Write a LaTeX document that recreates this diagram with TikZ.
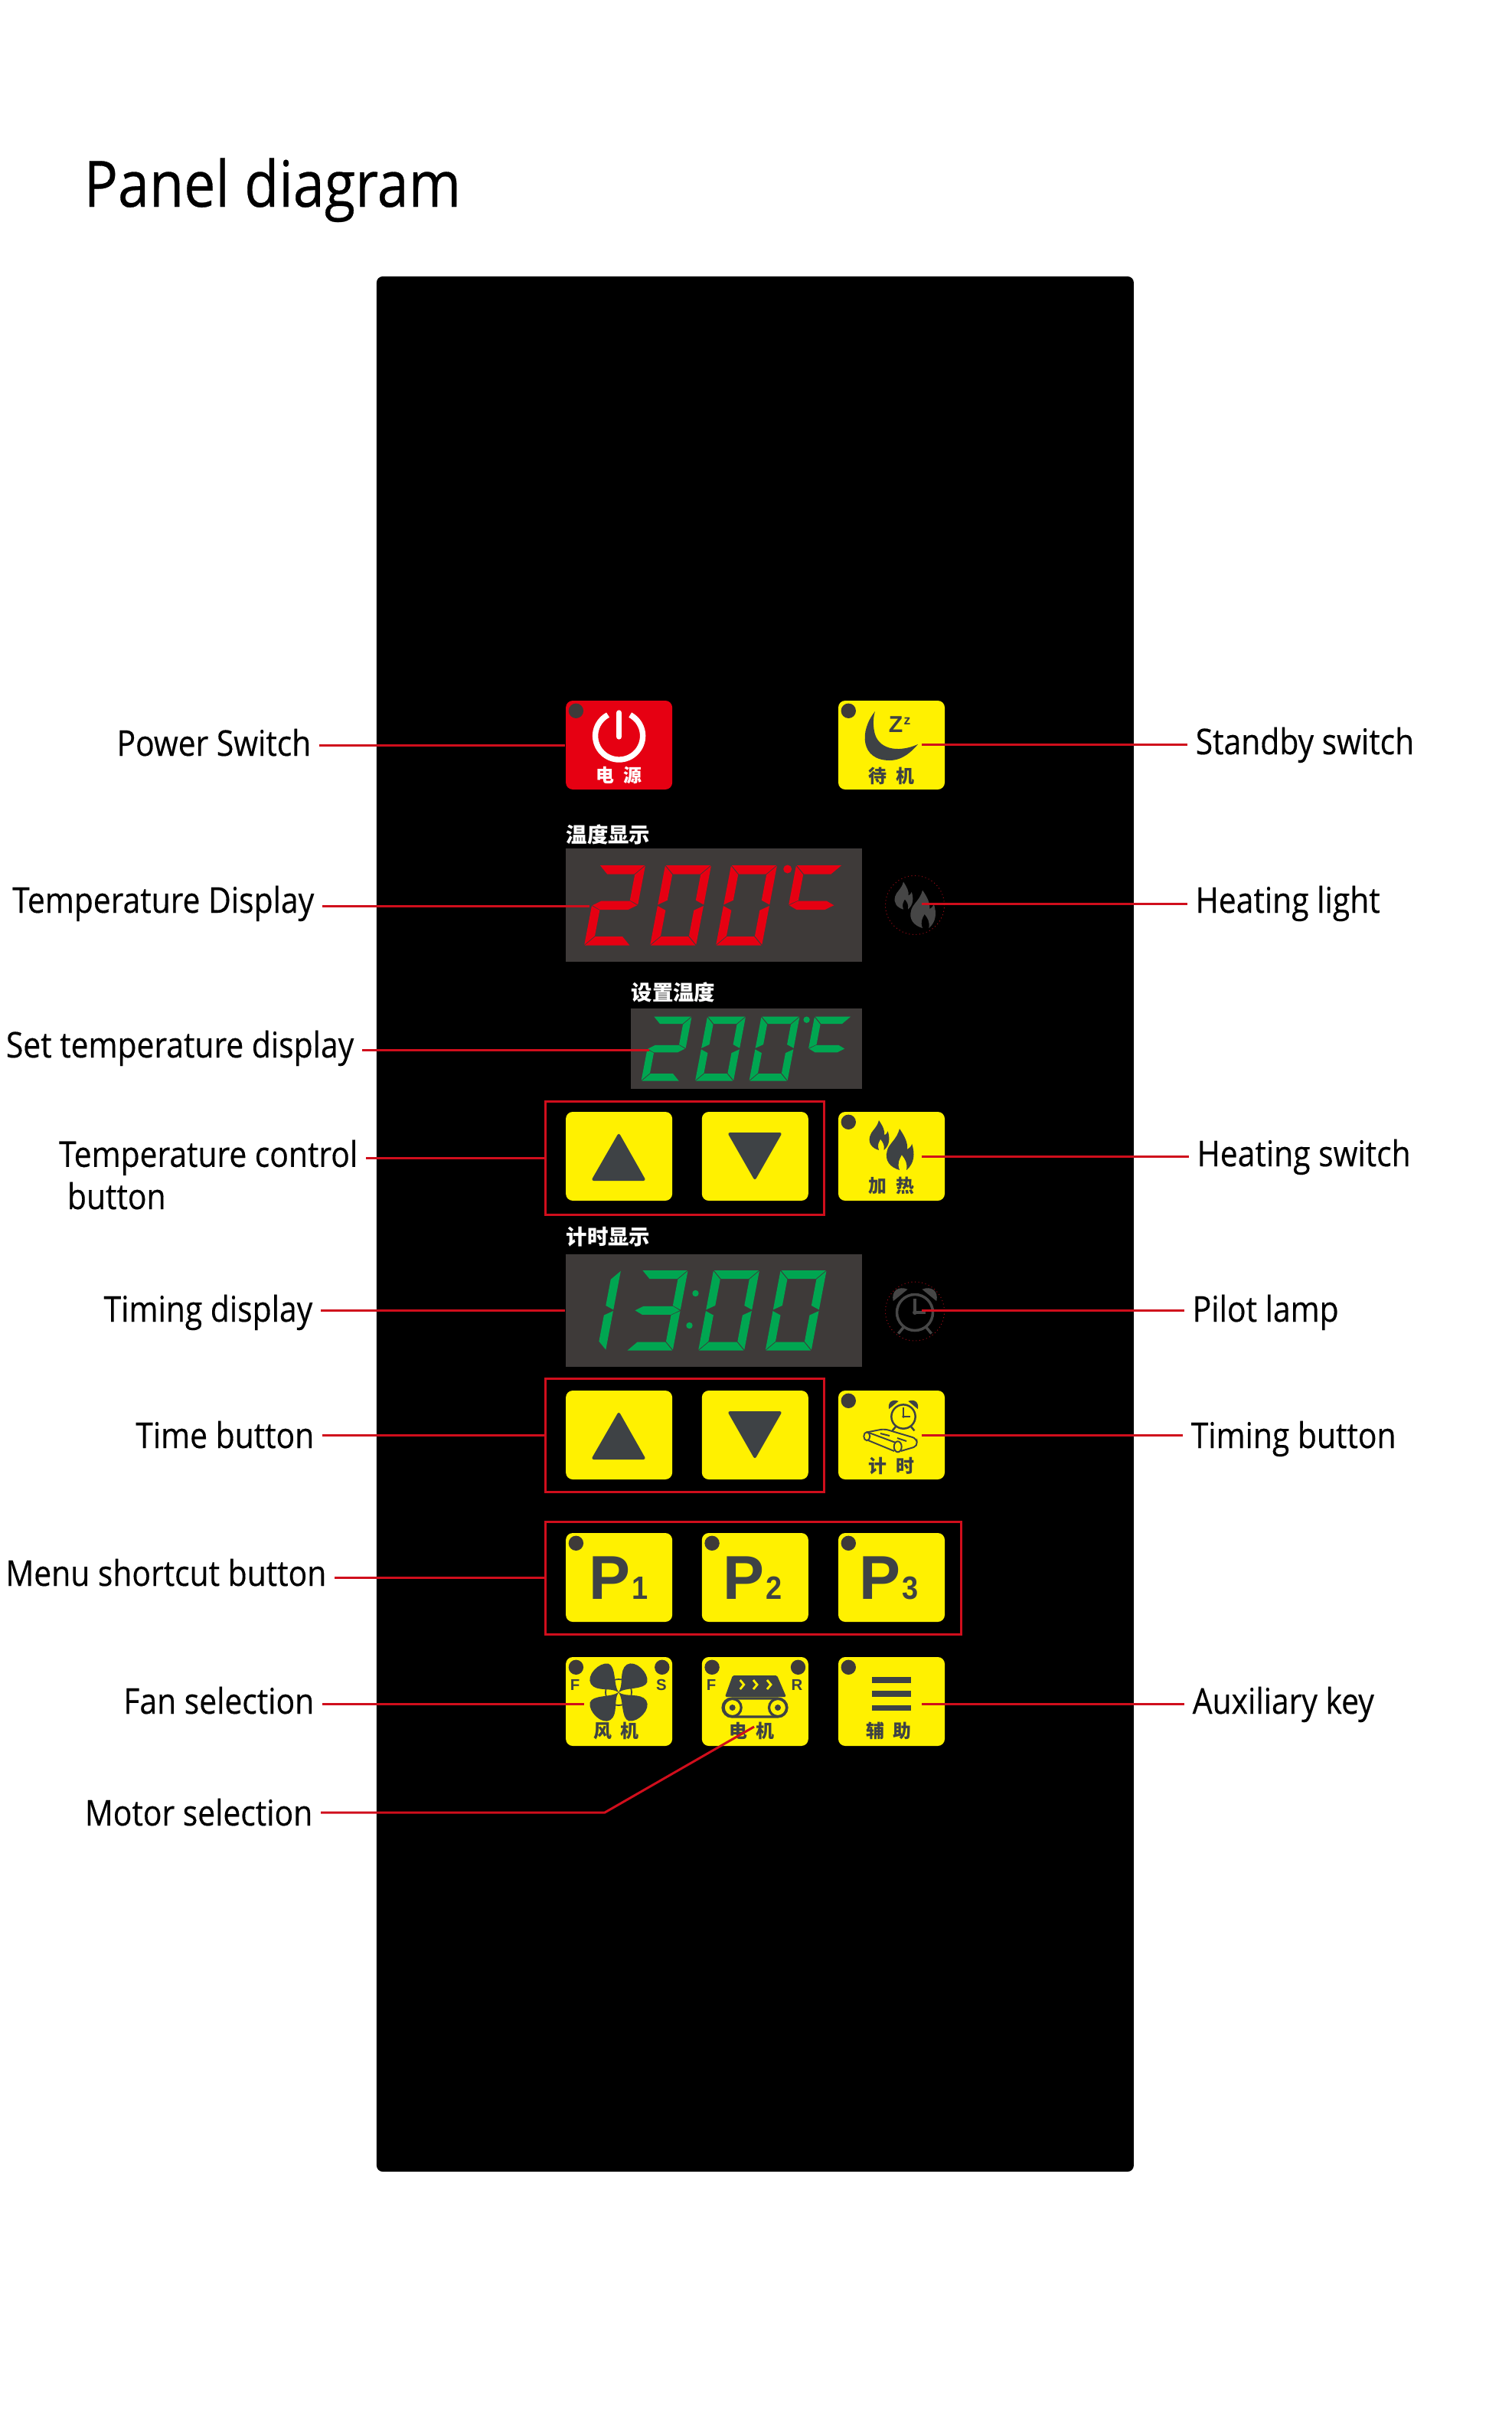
\documentclass[tikz,border=0pt]{standalone}
\usepackage{fontspec}
\usetikzlibrary{calc}
\setmainfont[FakeStretch=.88,FakeBold=.35]{Open Sans}
\newfontfamily\cjkfont[WordSpace=2.1]{Noto Sans CJK SC}
\newfontfamily\keyfont{Liberation Sans}
\newfontfamily\keynarrow[FakeStretch=.9]{Liberation Sans}
\definecolor{ledred}{RGB}{230,0,18}
\definecolor{ledgreen}{RGB}{0,166,81}
\definecolor{keyyellow}{RGB}{255,241,0}
\definecolor{icondark}{RGB}{62,66,69}
\definecolor{leddark}{RGB}{62,58,57}
\definecolor{lampgrey}{RGB}{70,70,70}
\definecolor{leaderred}{RGB}{208,14,28}

% seven segment parts, coordinates go down from the top of the digit
\newcommand{\segpa}{\fill (\segG,0) -- (\segW-\segG,0) -- (\segW-\segT-\segG,\segT) -- (\segT+\segG,\segT) -- cycle;}
\newcommand{\segpb}{\fill (\segW,\segG) -- (\segW,\segH/2-\segG) -- (\segW-\segT,\segH/2-\segT/2-\segG) -- (\segW-\segT,\segT+\segG) -- cycle;}
\newcommand{\segpc}{\fill (\segW,\segH/2+\segG) -- (\segW,\segH-\segG) -- (\segW-\segT,\segH-\segT-\segG) -- (\segW-\segT,\segH/2+\segT/2+\segG) -- cycle;}
\newcommand{\segpd}{\fill (\segG,\segH) -- (\segW-\segG,\segH) -- (\segW-\segT-\segG,\segH-\segT) -- (\segT+\segG,\segH-\segT) -- cycle;}
\newcommand{\segpe}{\fill (0,\segH/2+\segG) -- (0,\segH-\segG) -- (\segT,\segH-\segT-\segG) -- (\segT,\segH/2+\segT/2+\segG) -- cycle;}
\newcommand{\segpf}{\fill (0,\segG) -- (0,\segH/2-\segG) -- (\segT,\segH/2-\segT/2-\segG) -- (\segT,\segT+\segG) -- cycle;}
\newcommand{\segpg}{\fill (\segG,\segH/2) -- (\segT,\segH/2-\segT/2) -- (\segW-\segT,\segH/2-\segT/2) -- (\segW-\segG,\segH/2) -- (\segW-\segT,\segH/2+\segT/2) -- (\segT,\segH/2+\segT/2) -- cycle;}
\newcommand{\segdigit}[6]{%
  \begin{scope}[shift={(#1,#2)}, x={(1cm,0cm)}, y={(-.19cm,-1cm)}]
    \def\segW{#3}\def\segH{#4}\def\segT{#5}\def\segG{.008}
    \foreach \s in {#6} {\csname segp\s\endcsname}
  \end{scope}}

\tikzset{
  flame/.pic={
    \fill (0,0) .. controls (-.35,.1) and (-.55,.35) .. (-.45,.7)
      .. controls (-.4,.95) and (-.1,1.1) .. (0,1.5)
      .. controls (.2,1.2) and (.3,1) .. (.28,.75)
      .. controls (.36,.8) and (.42,.85) .. (.45,.95)
      .. controls (.56,.6) and (.55,.25) .. (.25,0)
      .. controls (.3,.25) and (.2,.4) .. (.08,.55)
      .. controls (0,.4) and (-.1,.25) .. (0,0);
  },
  clockicon/.pic={
    \draw (0,0) circle (.87);
    \fill (-1.05,.55) .. controls (-1.15,1.05) and (-.8,1.3) .. (-.35,1.12) -- cycle;
    \fill (1.05,.55) .. controls (1.15,1.05) and (.8,1.3) .. (.35,1.12) -- cycle;
    \draw (-.55,-.72) -- (-.8,-1.02);
    \draw (.55,-.72) -- (.8,-1.02);
    \draw (0,.68) -- (0,0) -- (.5,0);
    \fill (0,0) circle (.11);
  }
}

\begin{document}
\begin{tikzpicture}[
    panel/.style={rectangle, rounded corners=.08cm, fill=black, minimum width=9.89cm, minimum height=24.75cm, inner sep=0pt},
    keybtn/.style={rectangle, rounded corners=.09cm, fill=keyyellow, minimum width=1.39cm, minimum height=1.16cm, inner sep=0pt},
    led/.style={circle, fill=leddark, minimum size=.194cm, inner sep=0pt, xshift=.14cm, yshift=-.14cm},
    display/.style={rectangle, fill=leddark, inner sep=0pt},
    groupbox/.style={rectangle, draw=leaderred, line width=.85pt, inner sep=0pt},
    lamp/.style={circle, draw=leaderred!70!black, line width=.3pt, densely dotted, minimum size=.77cm, inner sep=0pt},
    leader/.style={leaderred, line width=.85pt},
    lblleft/.style={font=\fontsize{13.2}{15.7}\selectfont, anchor=base east, inner xsep=.1cm, inner ysep=0pt},
    lblright/.style={font=\fontsize{13.2}{15.7}\selectfont, anchor=base west, inner xsep=.1cm, inner ysep=0pt},
    dispcaption/.style={font=\cjkfont\bfseries\fontsize{7.8}{8}\selectfont, text=white, anchor=west, inner sep=0pt},
    keycaption/.style={font=\cjkfont\bfseries\fontsize{6.8}{7}\selectfont, text=icondark, inner sep=0pt},
    keyletter/.style={font=\keyfont\bfseries\fontsize{5.8}{6}\selectfont, text=icondark, inner sep=0pt},
    keyp/.style={text=icondark, anchor=base west, inner sep=0pt}
]
\useasboundingbox (0,0) rectangle (19.75,-31.46);

% Title and panel
\node[anchor=base west, inner sep=0pt, font=\fontsize{23.8}{26}\selectfont] (title) at (1.09,-2.70) {Panel diagram};
\node[panel] (panel) at (9.864,-15.985) {};

% Displays
\node[dispcaption] (capTemp) at (7.39,-10.90) {温度显示};
\node[display, minimum width=3.87cm, minimum height=1.48cm] (dispTemp) at (9.32,-11.82) {};
\node[dispcaption] (capSet) at (8.24,-12.955) {设置温度};
\node[display, minimum width=3.015cm, minimum height=1.05cm] (dispSet) at (9.7475,-13.69) {};
\node[dispcaption] (capTime) at (7.39,-16.15) {计时显示};
\node[display, minimum width=3.87cm, minimum height=1.47cm] (dispTime) at (9.32,-17.115) {};

% Digits
\begin{scope}[color=ledred]
\segdigit{7.83}{-11.30}{.60}{1.045}{.115}{a,b,g,e,d}
\segdigit{8.69}{-11.30}{.60}{1.045}{.115}{a,b,c,d,e,f}
\segdigit{9.55}{-11.30}{.60}{1.045}{.115}{a,b,c,d,e,f}
\segdigit{10.40}{-11.30}{.60}{1.045}{.115}{a,f,g}
\fill (10.287,-11.35) circle (.055);
\end{scope}
\begin{scope}[color=ledgreen]
\segdigit{8.535}{-13.276}{.50}{.84}{.095}{a,b,g,e,d}
\segdigit{9.24}{-13.276}{.50}{.84}{.095}{a,b,c,d,e,f}
\segdigit{9.945}{-13.276}{.50}{.84}{.095}{a,b,c,d,e,f}
\segdigit{10.64}{-13.276}{.48}{.84}{.095}{a,f,g}
\fill (10.536,-13.317) circle (.042);
\segdigit{7.51}{-16.59}{.60}{1.045}{.11}{b,c}
\segdigit{8.386}{-16.59}{.60}{1.045}{.11}{a,b,g,c,d}
\segdigit{9.32}{-16.59}{.60}{1.045}{.11}{a,b,c,d,e,f}
\segdigit{10.196}{-16.59}{.60}{1.045}{.11}{a,b,c,d,e,f}
\fill (9.085,-16.89) circle (.042);
\fill (9.005,-17.31) circle (.042);
\end{scope}

% Keys
\node[keybtn, fill=ledred] (btnPower) at (8.086,-9.73) {};
\node[keybtn] (btnStandby) at (11.645,-9.73) {};
\node[keybtn] (btnTempUp) at (8.086,-15.10) {};
\node[keybtn] (btnTempDown) at (9.863,-15.10) {};
\node[keybtn] (btnHeat) at (11.645,-15.10) {};
\node[keybtn] (btnTimeUp) at (8.086,-18.74) {};
\node[keybtn] (btnTimeDown) at (9.863,-18.74) {};
\node[keybtn] (btnTimer) at (11.645,-18.74) {};
\node[keybtn] (btnPone) at (8.086,-20.60) {};
\node[keybtn] (btnPtwo) at (9.863,-20.60) {};
\node[keybtn] (btnPthree) at (11.645,-20.60) {};
\node[keybtn] (btnFan) at (8.086,-22.22) {};
\node[keybtn] (btnMotor) at (9.863,-22.22) {};
\node[keybtn] (btnAux) at (11.645,-22.22) {};

% Key lamps
\node[led] (ledPower) at (btnPower.north west) {};
\node[led] (ledStandby) at (btnStandby.north west) {};
\node[led] (ledHeat) at (btnHeat.north west) {};
\node[led] (ledTimer) at (btnTimer.north west) {};
\node[led] (ledPone) at (btnPone.north west) {};
\node[led] (ledPtwo) at (btnPtwo.north west) {};
\node[led] (ledPthree) at (btnPthree.north west) {};
\node[led] (ledFanF) at (btnFan.north west) {};
\node[led, xshift=-.28cm] (ledFanS) at (btnFan.north east) {};
\node[led] (ledMotorF) at (btnMotor.north west) {};
\node[led, xshift=-.28cm] (ledMotorR) at (btnMotor.north east) {};
\node[led] (ledAux) at (btnAux.north west) {};

% Key captions
\node[keycaption, text=white] (capPower) at (8.086,-10.13) {电 源};
\node[keycaption] (capStandby) at (11.645,-10.13) {待 机};
\node[keycaption] (capHeat) at (11.645,-15.48) {加 热};
\node[keycaption] (capTimer) at (11.645,-19.14) {计 时};
\node[keycaption] (capFan) at (8.05,-22.60) {风 机};
\node[keycaption] (capMotor) at (9.82,-22.60) {电 机};
\node[keycaption] (capAux) at (11.607,-22.60) {辅 助};

% Power and standby icons
\draw[white, line width=2.1pt] (8.086,-9.61) ++(62:.31) arc[start angle=62, end angle=-242, radius=.31cm];
\draw[white, line width=2.1pt, line cap=round] (8.086,-9.31) -- (8.086,-9.62);
\fill[icondark] (11.43,-9.29) .. controls (11.22,-9.55) and (11.24,-9.93) .. (11.62,-9.93)
  .. controls (11.8,-9.93) and (11.92,-9.8) .. (11.99,-9.72)
  .. controls (11.72,-9.84) and (11.46,-9.78) .. (11.42,-9.55)
  .. controls (11.40,-9.45) and (11.41,-9.35) .. (11.43,-9.29) -- cycle;
\node[keyletter, font=\keyfont\bfseries\fontsize{8.6}{9}\selectfont] (zBig) at (11.70,-9.46) {Z};
\node[keyletter, font=\keyfont\bfseries\fontsize{5}{6}\selectfont] (zSmall) at (11.85,-9.42) {z};

% Arrow icons
\fill[icondark, rounded corners=1pt] (8.083,-14.79) -- (8.44,-15.42) -- (7.72,-15.42) -- cycle;
\fill[icondark, rounded corners=1pt] (9.50,-14.79) -- (10.22,-14.79) -- (9.86,-15.42) -- cycle;
\fill[icondark, rounded corners=1pt] (8.083,-18.43) -- (8.44,-19.06) -- (7.72,-19.06) -- cycle;
\fill[icondark, rounded corners=1pt] (9.50,-18.43) -- (10.22,-18.43) -- (9.86,-19.06) -- cycle;

% Flames and clocks
\pic[color=icondark, scale=.36] at (11.75,-15.28) {flame};
\pic[color=icondark, scale=.26] at (11.48,-15.02) {flame};
\pic[color=lampgrey, scale=.33] at (12.05,-12.12) {flame};
\pic[color=lampgrey, scale=.24] at (11.80,-11.876) {flame};
\pic[color=lampgrey, scale=.27, line width=1pt] at (11.95,-17.14) {clockicon};
\pic[color=icondark, scale=.18, line width=.7pt] at (11.80,-18.50) {clockicon};

% Timer belt
\draw[icondark, line width=.55pt, rounded corners=1.5pt] (11.32,-18.705) -- (11.55,-18.66) -- (11.97,-18.785) -- (11.985,-18.885) -- (11.767,-18.95);
\draw[icondark, line width=.55pt] (11.34,-18.81) -- (11.68,-18.95);
\draw[icondark, line width=.55pt] (11.35,-18.71) -- (11.70,-18.84);
\draw[icondark, line width=.55pt] (11.323,-18.757) ellipse (.04 and .055);
\draw[icondark, line width=.55pt] (11.727,-18.893) ellipse (.05 and .07);
\draw[icondark, line width=.55pt] (11.50,-18.72) -- (11.62,-18.75);
\draw[icondark, line width=.55pt] (11.72,-18.78) -- (11.84,-18.82);

% Program keys
\node[keyp] (txtPone) at (7.69,-20.88) {\keyfont\fontsize{23}{24}\selectfont\bfseries P\keynarrow\fontsize{12}{12}\selectfont\bfseries\kern.6pt 1};
\node[keyp] (txtPtwo) at (9.44,-20.88) {\keyfont\fontsize{23}{24}\selectfont\bfseries P\keynarrow\fontsize{12}{12}\selectfont\bfseries\kern.6pt 2};
\node[keyp] (txtPthree) at (11.22,-20.88) {\keyfont\fontsize{23}{24}\selectfont\bfseries P\keynarrow\fontsize{12}{12}\selectfont\bfseries\kern.6pt 3};

% Fan
\node[keyletter] (txtFanF) at (7.51,-22.007) {F};
\node[keyletter] (txtFanS) at (8.64,-22.007) {S};
\draw[icondark, line width=.5pt] (8.08,-22.10) circle (.17);
\foreach \ang in {45,135,225,315}
  \fill[icondark, shift={(8.08,-22.10)}, rotate=\ang] (0,0) .. controls (.12,.02) and (.2,.2) .. (.33,.18)
    .. controls (.46,.15) and (.46,-.1) .. (.36,-.17) .. controls (.26,-.22) and (.12,-.02) .. (0,0);

% Motor
\node[keyletter] (txtMotorF) at (9.29,-22.007) {F};
\node[keyletter] (txtMotorR) at (10.41,-22.007) {R};
\fill[icondark, rounded corners=.5pt] (9.57,-21.88) -- (10.15,-21.88) -- (10.27,-22.16) -- (9.47,-22.16) -- cycle;
\foreach \cx in {9.687,9.86,10.04}
  \draw[keyyellow, line width=.8pt] (\cx-.02,-21.94) -- (\cx+.03,-22.0) -- (\cx-.02,-22.06);
\draw[icondark, line width=.9pt, rounded corners=.12cm] (9.44,-22.18) rectangle (10.28,-22.42);
\foreach \cx in {9.567,10.16} {
  \draw[icondark, line width=.9pt, fill=keyyellow] (\cx,-22.30) circle (.115);
  \fill[icondark] (\cx,-22.30) circle (.04);
}

% Auxiliary
\fill[icondark] (11.385,-21.90) rectangle (11.90,-21.98);
\fill[icondark] (11.385,-22.08) rectangle (11.90,-22.16);
\fill[icondark] (11.385,-22.27) rectangle (11.90,-22.34);

% Groups and lamps
\node[groupbox, minimum width=3.64cm, minimum height=1.48cm] (boxTemp) at (8.94,-15.12) {};
\node[groupbox, minimum width=3.64cm, minimum height=1.48cm] (boxTime) at (8.94,-18.74) {};
\node[groupbox, minimum width=5.43cm, minimum height=1.47cm] (boxMenu) at (9.835,-20.605) {};
\node[lamp] (lampHeat) at (11.95,-11.82) {};
\node[lamp] (lampTime) at (11.95,-17.125) {};

% Labels left
\node[lblleft] (lblPower) at (4.17,-9.87) {Power Switch};
\node[lblleft] (lblTemp) at (4.21,-11.92) {Temperature Display};
\node[lblleft] (lblSet) at (4.73,-13.81) {Set temperature display};
\node[lblleft, align=left] (lblCtrl) at (4.78,-15.79) {Temperature control\\\hspace{.11cm}button};
\node[lblleft] (lblTiming) at (4.19,-17.26) {Timing display};
\node[lblleft] (lblTimeBtn) at (4.21,-18.91) {Time button};
\node[lblleft] (lblMenu) at (4.37,-20.71) {Menu shortcut button};
\node[lblleft] (lblFan) at (4.21,-22.38) {Fan selection};
\node[lblleft] (lblMotor) at (4.19,-23.84) {Motor selection};

% Labels right
\node[lblright] (lblStandby) at (15.51,-9.85) {Standby switch};
\node[lblright] (lblHeatLight) at (15.51,-11.92) {Heating light};
\node[lblright] (lblHeatSw) at (15.53,-15.23) {Heating switch};
\node[lblright] (lblPilot) at (15.47,-17.26) {Pilot lamp};
\node[lblright] (lblTimerBtn) at (15.45,-18.91) {Timing button};
\node[lblright] (lblAux) at (15.47,-22.38) {Auxiliary key};

% Leader ends
\coordinate (tipTemp) at (7.70,-11.83);
\coordinate (tipSet) at (8.48,-13.71);
\coordinate (tipFan) at (7.63,-22.25);
\coordinate (tipMotor) at (9.85,-22.55);
\coordinate (bendMotor) at (7.90,-23.67);
\coordinate (tipStandby) at (12.04,-9.72);
\coordinate (tipHeatLight) at (12.04,-11.80);
\coordinate (tipHeatSw) at (12.04,-15.10);
\coordinate (tipPilot) at (12.04,-17.11);
\coordinate (tipTimerBtn) at (12.04,-18.74);
\coordinate (tipAux) at (12.04,-22.25);

% Leaders
\draw[leader] (lblPower.east |- btnPower.west) -- (btnPower.west);
\draw[leader] (lblTemp.east |- tipTemp) -- (tipTemp);
\draw[leader] (lblSet.east |- tipSet) -- (tipSet);
\draw[leader] (lblCtrl.east |- boxTemp.west) -- (boxTemp.west);
\draw[leader] (lblTiming.east |- dispTime.west) -- (dispTime.west);
\draw[leader] (lblTimeBtn.east |- boxTime.west) -- (boxTime.west);
\draw[leader] (lblMenu.east |- boxMenu.west) -- (boxMenu.west);
\draw[leader] (lblFan.east |- tipFan) -- (tipFan);
\draw[leader] (lblMotor.east |- bendMotor) -- (bendMotor) -- (tipMotor);
\draw[leader] (tipStandby) -- (tipStandby -| lblStandby.west);
\draw[leader] (tipHeatLight) -- (tipHeatLight -| lblHeatLight.west);
\draw[leader] (tipHeatSw) -- (tipHeatSw -| lblHeatSw.west);
\draw[leader] (tipPilot) -- (tipPilot -| lblPilot.west);
\draw[leader] (tipTimerBtn) -- (tipTimerBtn -| lblTimerBtn.west);
\draw[leader] (tipAux) -- (tipAux -| lblAux.west);

\end{tikzpicture}
\end{document}
